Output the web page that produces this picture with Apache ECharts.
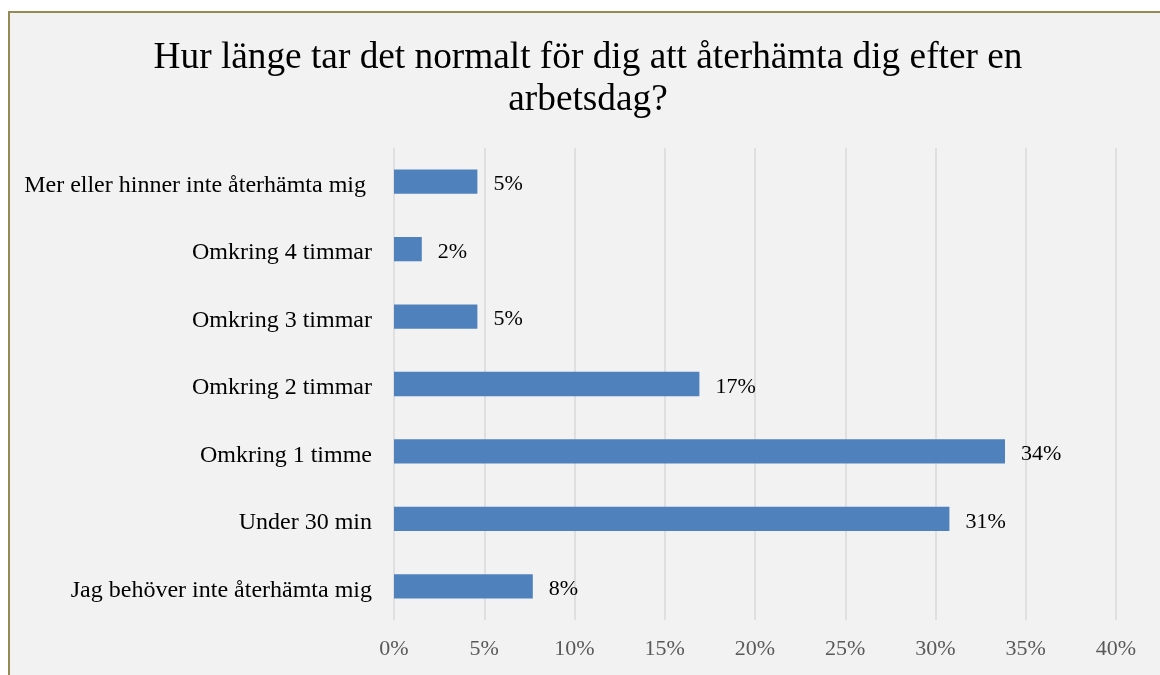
<!DOCTYPE html>
<html>
<head>
<meta charset="UTF-8">
<title>Återhämtning</title>
<script src="https://cdn.jsdelivr.net/npm/echarts@6/dist/echarts.min.js"></script>
<style>
  html, body { margin: 0; padding: 0; background: #fff; overflow: hidden; }
  .frame {
    position: absolute; left: 8px; top: 11px; width: 1200px; height: 700px;
    background: #f2f2f2; border-left: 2px solid #948a54; border-top: 2px solid #948a54;
  }
  #chart { position: absolute; left: 0; top: 0; width: 1160px; height: 675px; }
</style>
</head>
<body>
<div class="frame"></div>
<div id="chart"></div>
<script>
  // kategorier nedifrån och upp
  var categories = [
    'Jag behöver inte återhämta mig',
    'Under 30 min',
    'Omkring 1 timme',
    'Omkring 2 timmar',
    'Omkring 3 timmar',
    'Omkring 4 timmar',
    'Mer eller hinner inte återhämta mig '
  ];
  var values = [7.69, 30.77, 33.85, 16.92, 4.62, 1.54, 4.62];
  var xTicks = [0, 5, 10, 15, 20, 25, 30, 35, 40];

  var serif = '"Liberation Serif", "DejaVu Serif", serif';
  var myChart = echarts.init(document.getElementById('chart'), null, { renderer: 'canvas' });
  var option = {
    backgroundColor: 'transparent',
    animation: false,
    title: {
      text: 'Hur länge tar det normalt för dig att återhämta dig efter en\narbetsdag?',
      left: 583, top: 32, textAlign: 'center',
      textStyle: { fontFamily: serif, fontSize: 37.3, fontWeight: 'normal', color: '#000', lineHeight: 42 }
    },
    grid: { left: 394, right: 44, top: 148, bottom: 55, containLabel: false },
    xAxis: {
      type: 'value', min: 0, max: xTicks[xTicks.length - 1], interval: 5,
      axisLine: { show: false }, axisTick: { show: false },
      splitLine: { lineStyle: { color: '#d9d9d9', width: 1.5 } },
      axisLabel: { formatter: '{value}%', color: '#595959', fontFamily: serif, fontSize: 22, margin: 18 }
    },
    yAxis: {
      type: 'category', data: categories,
      axisLine: { show: false }, axisTick: { show: false },
      axisLabel: {
        margin: 22,
        formatter: function (v) { return '{c|' + v + '}'; },
        rich: { c: { color: '#000', fontFamily: serif, fontSize: 24, padding: [8, 0, 0, 0] } }
      }
    },
    series: [{
      type: 'bar', data: values, barCategoryGap: '64%',
      itemStyle: { color: '#4f81bd' },
      label: {
        show: true, position: 'right', distance: 16, offset: [0, 3],
        fontFamily: serif, fontSize: 22, color: '#000',
        formatter: function (p) { return Math.round(p.value) + '%'; }
      }
    }]
  };
  myChart.setOption(option);
</script>
</body>
</html>
